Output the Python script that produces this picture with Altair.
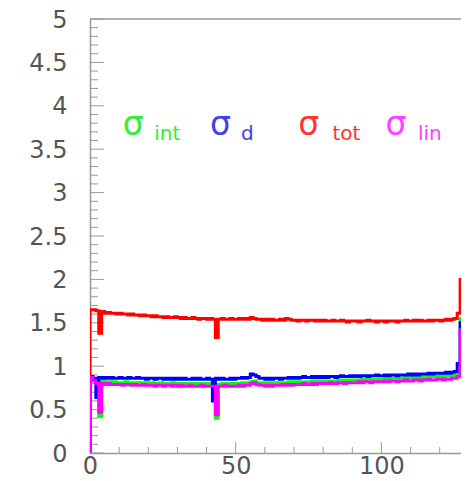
import altair as alt
import pandas as pd

# ---- data (bin contents, bins 0..127, width 1) ----
sigma_tot = [
    1.65, 1.65, 1.64, 1.38, 1.63, 1.61, 1.62, 1.61, 1.61, 1.60,
    1.61, 1.60, 1.60, 1.59, 1.60, 1.59, 1.59, 1.58, 1.59, 1.58,
    1.58, 1.57, 1.58, 1.57, 1.57, 1.56, 1.57, 1.56, 1.56, 1.57,
    1.56, 1.55, 1.56, 1.55, 1.55, 1.56, 1.55, 1.54, 1.55, 1.55,
    1.54, 1.55, 1.54, 1.33, 1.54, 1.55, 1.54, 1.54, 1.55, 1.54,
    1.54, 1.55, 1.54, 1.55, 1.54, 1.56, 1.55, 1.54, 1.54, 1.53,
    1.54, 1.53, 1.54, 1.53, 1.53, 1.54, 1.53, 1.55, 1.54, 1.53,
    1.53, 1.52, 1.53, 1.53, 1.52, 1.53, 1.53, 1.52, 1.53, 1.52,
    1.53, 1.52, 1.52, 1.53, 1.52, 1.52, 1.53, 1.52, 1.51, 1.52,
    1.52, 1.52, 1.51, 1.52, 1.52, 1.53, 1.52, 1.52, 1.51, 1.52,
    1.52, 1.51, 1.52, 1.52, 1.52, 1.51, 1.52, 1.52, 1.53, 1.52,
    1.52, 1.53, 1.52, 1.53, 1.52, 1.52, 1.53, 1.52, 1.53, 1.53,
    1.52, 1.53, 1.54, 1.53, 1.54, 1.55, 1.61, 2.00,
]
sigma_d = [
    0.88, 0.86, 0.64, 0.87, 0.86, 0.87, 0.86, 0.87, 0.86, 0.86,
    0.87, 0.86, 0.86, 0.87, 0.86, 0.86, 0.87, 0.86, 0.86, 0.85,
    0.86, 0.86, 0.85, 0.86, 0.86, 0.85, 0.86, 0.85, 0.86, 0.85,
    0.86, 0.85, 0.86, 0.85, 0.85, 0.86, 0.85, 0.86, 0.85, 0.85,
    0.86, 0.85, 0.60, 0.86, 0.85, 0.86, 0.85, 0.85, 0.86, 0.85,
    0.86, 0.86, 0.87, 0.86, 0.87, 0.91, 0.90, 0.88, 0.86, 0.86,
    0.85, 0.86, 0.85, 0.86, 0.86, 0.85, 0.86, 0.86, 0.87, 0.86,
    0.87, 0.86, 0.87, 0.88, 0.87, 0.87, 0.88, 0.87, 0.88, 0.87,
    0.88, 0.87, 0.88, 0.88, 0.87, 0.88, 0.89, 0.88, 0.88, 0.89,
    0.88, 0.89, 0.88, 0.89, 0.89, 0.88, 0.89, 0.89, 0.90, 0.89,
    0.89, 0.90, 0.89, 0.90, 0.90, 0.89, 0.90, 0.90, 0.90, 0.91,
    0.90, 0.91, 0.90, 0.91, 0.91, 0.91, 0.92, 0.91, 0.92, 0.92,
    0.92, 0.92, 0.93, 0.92, 0.93, 0.94, 1.03, 1.50,
]
sigma_int = [
    0.86, 0.84, 0.82, 0.42, 0.83, 0.82, 0.82, 0.81, 0.82, 0.81,
    0.81, 0.81, 0.82, 0.81, 0.81, 0.80, 0.81, 0.81, 0.80, 0.81,
    0.80, 0.81, 0.80, 0.80, 0.81, 0.80, 0.80, 0.80, 0.81, 0.80,
    0.80, 0.80, 0.79, 0.80, 0.80, 0.79, 0.80, 0.80, 0.79, 0.80,
    0.80, 0.79, 0.80, 0.40, 0.79, 0.80, 0.80, 0.79, 0.80, 0.80,
    0.80, 0.80, 0.81, 0.80, 0.81, 0.82, 0.83, 0.81, 0.80, 0.81,
    0.80, 0.81, 0.80, 0.81, 0.81, 0.80, 0.81, 0.81, 0.82, 0.81,
    0.82, 0.81, 0.82, 0.82, 0.82, 0.82, 0.83, 0.82, 0.83, 0.82,
    0.83, 0.83, 0.83, 0.83, 0.83, 0.84, 0.84, 0.83, 0.84, 0.84,
    0.84, 0.84, 0.84, 0.85, 0.84, 0.85, 0.85, 0.85, 0.85, 0.85,
    0.85, 0.86, 0.85, 0.86, 0.86, 0.86, 0.86, 0.86, 0.87, 0.86,
    0.87, 0.87, 0.87, 0.87, 0.88, 0.87, 0.88, 0.88, 0.88, 0.88,
    0.89, 0.88, 0.89, 0.89, 0.89, 0.90, 0.92, 1.55,
]
sigma_lin = [
    0.87, 0.83, 0.80, 0.47, 0.80, 0.79, 0.80, 0.79, 0.79, 0.79,
    0.79, 0.78, 0.79, 0.79, 0.78, 0.79, 0.78, 0.78, 0.79, 0.78,
    0.78, 0.78, 0.77, 0.78, 0.78, 0.77, 0.78, 0.78, 0.77, 0.78,
    0.77, 0.78, 0.77, 0.77, 0.78, 0.77, 0.77, 0.77, 0.78, 0.77,
    0.77, 0.77, 0.77, 0.44, 0.77, 0.77, 0.78, 0.77, 0.77, 0.77,
    0.77, 0.78, 0.77, 0.78, 0.78, 0.80, 0.81, 0.79, 0.78, 0.78,
    0.77, 0.78, 0.77, 0.78, 0.78, 0.78, 0.79, 0.78, 0.79, 0.78,
    0.79, 0.79, 0.79, 0.80, 0.79, 0.79, 0.80, 0.79, 0.80, 0.80,
    0.80, 0.80, 0.81, 0.80, 0.80, 0.81, 0.81, 0.80, 0.81, 0.81,
    0.81, 0.81, 0.82, 0.81, 0.82, 0.82, 0.81, 0.82, 0.82, 0.82,
    0.82, 0.83, 0.82, 0.83, 0.83, 0.82, 0.83, 0.83, 0.84, 0.83,
    0.83, 0.84, 0.84, 0.83, 0.84, 0.84, 0.85, 0.84, 0.84, 0.85,
    0.85, 0.84, 0.85, 0.85, 0.86, 0.86, 0.88, 1.42,
]

series_names = ["int", "d", "tot", "lin"]
series_colors = ["#00ff00", "#0000ff", "#ff0000", "#ff00ff"]
text_colors = ["#33ee33", "#3f3fee", "#ff3333", "#ff40ff"]
series_values = [sigma_int, sigma_d, sigma_tot, sigma_lin]

# label annotations (data coordinates)
sym_x = [14.8, 44.8, 75.0, 105.0]
sub_x = [26.5, 54.0, 88.0, 116.6]
sym_y = 3.78
sub_y = 3.68

x_major = [0, 50, 100]
x_minor = [10, 20, 30, 40, 60, 70, 80, 90, 110, 120]
y_major = [0, 0.5, 1, 1.5, 2, 2.5, 3, 3.5, 4, 4.5, 5]
y_minor = [round(0.1 * k, 1) for k in range(51) if k % 5 != 0]

X_MAX = 127.3
W, H = 371, 434

xs = alt.Scale(domain=[0, X_MAX], nice=False, zero=False)
ys = alt.Scale(domain=[0, 5], nice=False)

x_axis = alt.Axis(
    values=x_major, title=None, ticks=False, tickSize=0, grid=False,
    labelFont="DejaVu Sans", labelFontSize=24, labelColor="#555555",
    labelPadding=1, domainColor="#999999", domainWidth=1.5, labelFlush=False)
y_axis = alt.Axis(
    values=y_major, format="~g", title=None, ticks=False, tickSize=0,
    grid=False, labelFont="DejaVu Sans", labelFontSize=24, labelOffset=1,
    labelColor="#555555", labelPadding=23, domainColor="#999999",
    domainWidth=1.5, labelFlush=False)


def X(field):
    return alt.X(field, type="quantitative", scale=xs, axis=x_axis, title=None)


def Y(field):
    return alt.Y(field, type="quantitative", scale=ys, axis=y_axis, title=None)


# ---- build step-line tables ----
def step_table(vals):
    rows = [{"x": 0, "y": 0.0, "o": 0}]
    for i, v in enumerate(vals):
        rows.append({"x": i, "y": v, "o": i + 1})
    rows.append({"x": len(vals), "y": vals[-1], "o": len(vals) + 1})
    return pd.DataFrame(rows)


layers = []
for name, col, vals in zip(series_names, series_colors, series_values):
    df = step_table(vals)
    layers.append(
        alt.Chart(df).mark_line(interpolate="step-after", color=col,
                                strokeWidth=3, clip=True).encode(
            x=X("x"), y=Y("y"), order="o:Q")
    )

# top frame line
top = alt.Chart(pd.DataFrame({"v": [5]})).mark_rule(
    color="#999999", strokeWidth=1.5).encode(y=Y("v"))

# inside ticks
ymaj = alt.Chart(pd.DataFrame({"v": y_major})).mark_rule(color="#999999").encode(
    y=Y("v"), x=alt.value(0), x2=alt.value(14))
ymin = alt.Chart(pd.DataFrame({"v": y_minor})).mark_rule(color="#999999").encode(
    y=Y("v"), x=alt.value(0), x2=alt.value(8))
xmaj = alt.Chart(pd.DataFrame({"v": x_major})).mark_rule(color="#999999").encode(
    x=X("v"), y=alt.value(H), y2=alt.value(H - 11))
xmin = alt.Chart(pd.DataFrame({"v": x_minor})).mark_rule(color="#999999").encode(
    x=X("v"), y=alt.value(H), y2=alt.value(H - 6))

lab_df = pd.DataFrame({
    "sx": sym_x, "ux": sub_x, "sub": series_names, "c": text_colors,
    "sy": [sym_y] * 4, "uy": [sub_y] * 4, "sym": ["σ"] * 4,
})
sym = alt.Chart(lab_df).mark_text(font="DejaVu Sans", fontSize=33,
                                  baseline="middle", align="center").encode(
    x=X("sx"), y=Y("sy"), text="sym:N", color=alt.Color("c:N", scale=None))
sub = alt.Chart(lab_df).mark_text(font="DejaVu Sans", fontSize=20,
                                  baseline="middle", align="center").encode(
    x=X("ux"), y=Y("uy"), text="sub:N", color=alt.Color("c:N", scale=None))

chart = alt.layer(
    top, ymaj, ymin, xmaj, xmin, *layers, sym, sub
).properties(
    width=W, height=H,
    autosize=alt.AutoSizeParams(type="none"),
    padding={"left": 82, "top": 11, "right": 0, "bottom": 26},
).configure_view(strokeWidth=0)

chart.save("out.html", embed_options={"renderer": "svg", "actions": False})
